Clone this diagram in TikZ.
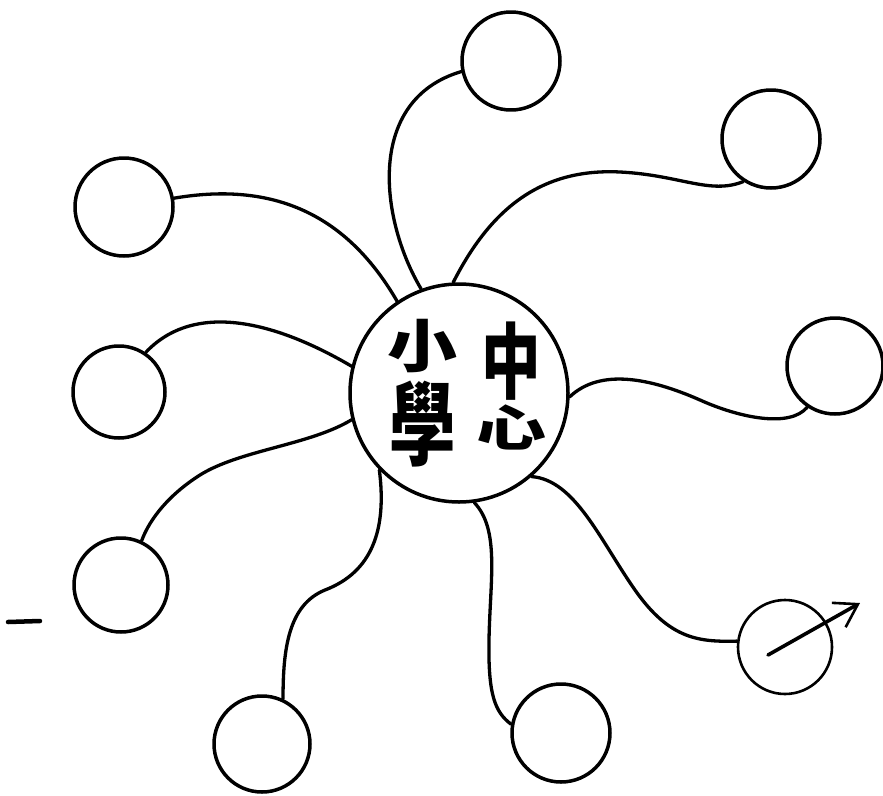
\documentclass[tikz,border=0pt]{standalone}
\usepackage{fontspec}
\usepackage{graphicx}
\newfontfamily\cjk{Noto Sans CJK TC}
\usetikzlibrary{arrows.meta}
\begin{document}
\begin{tikzpicture}[x=1pt,y=-1pt, line cap=round, line join=round,
  ring/.style={draw, circle, line width=3.5pt, inner sep=0pt, minimum size=#1},
  link/.style={line width=3.3pt},
  glyph/.style={font=\cjk\bfseries\fontsize{70}{70}\selectfont, inner sep=0pt}]
\useasboundingbox[fill=white] (0,0) rectangle (883,795);
% centre circle
\node[ring=218pt] (c) at (459,393) {};
% outer circles
\node[ring=98pt] (t)  at (511,61)  {};
\node[ring=98pt] (tr) at (771,139) {};
\node[ring=96pt] (r)  at (835,366) {};
\node[ring=94pt, line width=2.6pt] (br) at (785,647) {};
\node[ring=98pt] (bm) at (561,733) {};
\node[ring=96pt] (bl) at (262,744) {};
\node[ring=94pt] (lb) at (121,585) {};
\node[ring=92pt] (lm) at (119,392) {};
\node[ring=98pt] (tl) at (124,207) {};
% text
\node[glyph] (g1) at (422,346) {\scalebox{1}[0.82]{小}};
\node[glyph] (g2) at (423,424) {\scalebox{0.95}[1.3]{學}};
\node[glyph] (g3) at (511,361) {\scalebox{0.85}[1.18]{中}};
\node[glyph] (g4) at (511,427) {\scalebox{1}[0.7]{心}};
% connectors
\draw[link] (c.110.3) .. controls (380,220) and (365,100) .. (t.192.7);
\draw[link] (c.93.7) .. controls (490,210) and (540,168) .. (620,172)
                     .. controls (680,175) and (710,195) .. (tr.237.6);
\draw[link] (c.-2.1) .. controls (600,368) and (650,378) .. (700,400)
                     .. controls (740,418) and (790,428) .. (r.236.3);
\draw[link] (c.-49) .. controls (575,480) and (600,540) .. (635,590)
                    .. controls (670,640) and (700,642) .. (br.173.9);
\draw[link] (c.-82.7) .. controls (500,530) and (490,580) .. (489,640)
                      .. controls (488,695) and (495,712) .. (bm.170.5);
\draw[link] (c.-136) .. controls (387,530) and (372,572) .. (325,590)
                     .. controls (288,605) and (283,650) .. (bl.65.5);
\draw[link] (c.-166.8) .. controls (310,445) and (240,450) .. (200,475)
                       .. controls (170,494) and (150,518) .. (lb.65);
\draw[link] (c.166.3) .. controls (290,330) and (200,295) .. (lm.56.3);
\draw[link] (c.124.6) .. controls (350,220) and (280,180) .. (tl.10.6);
% arrow through lower right circle
\coordinate (a0) at (768,655);
\coordinate (a1) at (860,603);
\draw[line width=3.6pt, -{Straight Barb[length=22pt,width=28pt,line width=2.6pt]}] (a0) -- (a1);
% small dash at left
\coordinate (d0) at (8,622);
\coordinate (d1) at (40,621);
\draw[line width=4.5pt] (d0) -- (d1);
\end{tikzpicture}
\end{document}
